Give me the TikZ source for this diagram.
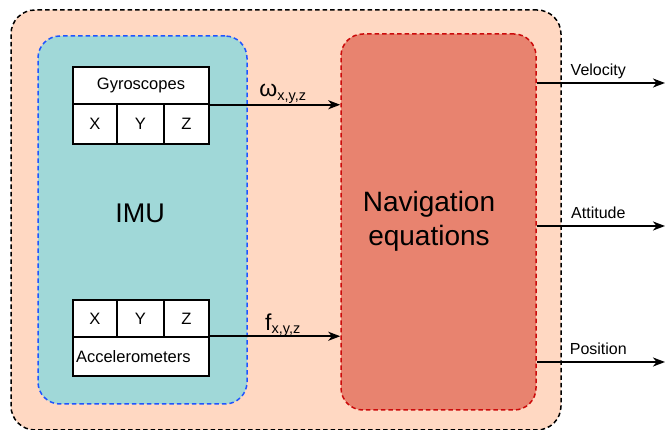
\documentclass[tikz,border=0pt]{standalone}
\usepackage{fontspec}
\setmainfont{Liberation Sans}
\usetikzlibrary{arrows.meta}
\definecolor{outerfill}{HTML}{FFD8C2}
\definecolor{imufill}{HTML}{A0D8D8}
\definecolor{navfill}{HTML}{E8836F}
\definecolor{imuline}{HTML}{1F55FF}
\definecolor{navline}{HTML}{CC0A0A}
\newcommand{\fs}[1]{\fontsize{#1}{#1}\selectfont}
\tikzset{
	cell/.style={draw,fill=white,line width=1.5pt,inner sep=0,minimum width=#1,minimum height=38,font=\fs{16.5}},
	arr/.style={line width=1.8pt,-{Stealth[length=12pt,width=9pt,inset=3.5pt]}},
	outlbl/.style={pos=0.48,anchor=base,yshift=7,font=\fs{16}}
}
\begin{document}
\begin{tikzpicture}[x=1pt,y=-1pt]
		\useasboundingbox (0,0) rectangle (665,430);
		\node[draw,dash pattern=on 4.5pt off 3pt,line width=1.5pt,fill=outerfill,rounded corners=24,inner sep=0,minimum width=550,minimum height=420](outer) at (286,220){};
		\node[draw=imuline,dash pattern=on 4.5pt off 3pt,line width=1.5pt,fill=imufill,rounded corners=22,inner sep=0,minimum width=209,minimum height=368](imu) at (142.5,220){};
		\node[draw=navline,dash pattern=on 4.5pt off 3pt,line width=1.5pt,fill=navfill,rounded corners=22,inner sep=0,minimum width=195,minimum height=376](nav) at (438.5,222){};
		\node[font=\fs{27}](imutxt) at (140,213){IMU};
		\node[align=center,font=\fontsize{28}{34}\selectfont](navtxt) at (429,221){Navigation\\equations};
		% gyroscopes
		\node[cell=136,minimum height=37](gtitle) at (141,85.5){Gyroscopes};
		\node[cell=44,minimum height=40](gx) at (95,124){X};
		\node[cell=47,minimum height=40](gy) at (140.5,124){Y};
		\node[cell=45,minimum height=40](gz) at (186.5,124){Z};
		% accelerometers
		\node[cell=44,minimum height=37](ax) at (95,318.5){X};
		\node[cell=47,minimum height=37](ay) at (140.5,318.5){Y};
		\node[cell=45,minimum height=37](az) at (186.5,318.5){Z};
		\node[cell=136,minimum height=39,text width=130,align=left](atitle) at (141,356.5){Accelerometers};
		% inputs
		\draw[arr](gtitle.south east)--(nav.west |- gtitle.south east)node[pos=0.5,anchor=base,xshift=8,yshift=8,font=\fs{23}]{ω\textsubscript{\fs{14.5}x,y,z}};
		\draw[arr](atitle.north east)--(nav.west |- atitle.north east)node[pos=0.5,anchor=base,xshift=8,yshift=6,font=\fs{23}]{f\textsubscript{\fs{14.5}x,y,z}};
		% outputs
		\coordinate(vel) at (665,83);
		\coordinate(att) at (665,226);
		\coordinate(pos) at (665,362);
		\draw[arr](nav.east |- vel)--(vel)node[outlbl]{Velocity};
		\draw[arr](nav.east |- att)--(att)node[outlbl]{Attitude};
		\draw[arr](nav.east |- pos)--(pos)node[outlbl]{Position};
	    \end{tikzpicture}
\end{document}
